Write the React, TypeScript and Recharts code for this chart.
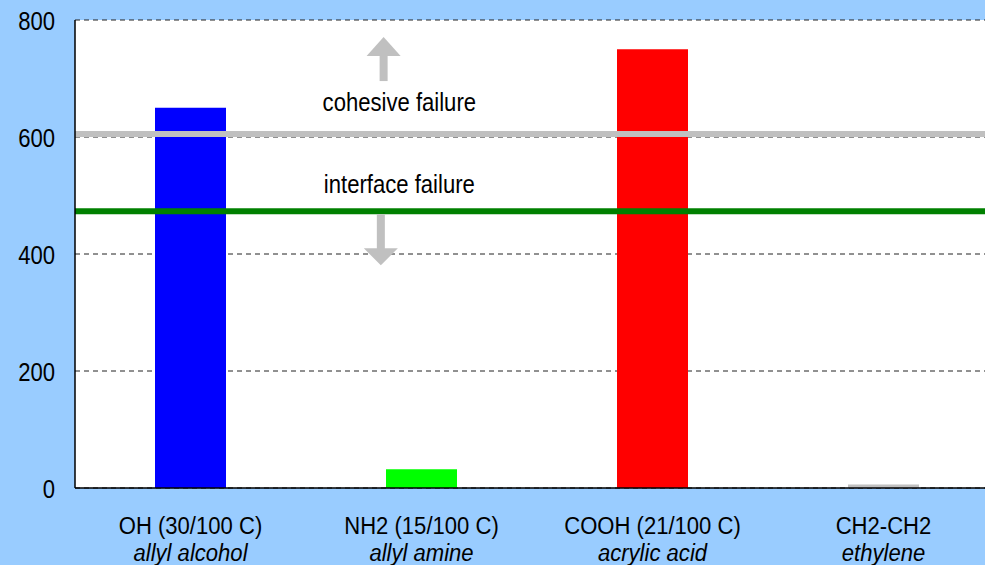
import React from 'react';
import { BarChart, Bar, XAxis, YAxis, CartesianGrid, ReferenceLine, Cell } from 'recharts';

const categories = ['OH (30/100 C)', 'NH2 (15/100 C)', 'COOH (21/100 C)', 'CH2-CH2'];
const monomers = ['allyl alcohol', 'allyl amine', 'acrylic acid', 'ethylene'];
const strengths = [650, 32, 750, 6];
const barColors = ['#0000ff', '#00ff00', '#ff0000', '#c0c0c0'];
const yTicks = [0, 200, 400, 600, 800];
const cohesiveLimit = 605;
const interfaceLimit = 473;

const data = categories.map((name, i) => ({
  name,
  monomer: monomers[i],
  value: strengths[i],
}));

const FONT = '"Liberation Sans", Arial, sans-serif';

// the original uses a tall, narrow sans - squeeze a bigger font horizontally
const NarrowText = ({ x, y, anchor = 'middle', size = 26, squeeze = 0.85, italic = false, children }: any) => (
  <text
    transform={`translate(${x} ${y}) scale(${squeeze} 1)`}
    x={0}
    y={0}
    textAnchor={anchor}
    fontSize={size}
    fontStyle={italic ? 'italic' : 'normal'}
    fontFamily={FONT}
    fill="#000"
  >
    {children}
  </text>
);

const CategoryTick = (props: any) => {
  const { x, y, payload } = props;
  const row = data.find(d => d.name === payload.value);
  return (
    <g>
      <NarrowText x={x} y={y + 38} size={24} squeeze={0.92}>{payload.value}</NarrowText>
      <NarrowText x={x} y={y + 65} size={24} squeeze={0.92} italic>{row ? row.monomer : ''}</NarrowText>
    </g>
  );
};

const ValueTick = (props: any) => {
  const { x, y, payload } = props;
  return <NarrowText x={x} y={y + 10} anchor="end">{payload.value}</NarrowText>;
};

// label + arrow drawn relative to the reference line's own position
const CohesiveLabel = (props: any) => {
  const { viewBox } = props;
  const y = viewBox.y;
  const tx = viewBox.x + viewBox.width * 0.351;
  const ax = viewBox.x + viewBox.width * 0.334;
  return (
    <g>
      <rect x={ax - 4} y={y - 80} width={8} height={27} fill="#c0c0c0" />
      <polygon points={`${ax - 17},${y - 78} ${ax + 17},${y - 78} ${ax},${y - 97}`} fill="#c0c0c0" />
      <NarrowText x={tx} y={y - 23}>cohesive failure</NarrowText>
    </g>
  );
};

const InterfaceLabel = (props: any) => {
  const { viewBox } = props;
  const y = viewBox.y;
  const tx = viewBox.x + viewBox.width * 0.351;
  const ax = viewBox.x + viewBox.width * 0.331;
  return (
    <g>
      <rect x={ax - 4} y={y + 3} width={8} height={36} fill="#c0c0c0" />
      <polygon points={`${ax - 17},${y + 37} ${ax + 17},${y + 37} ${ax},${y + 54}`} fill="#c0c0c0" />
      <NarrowText x={tx} y={y - 18}>interface failure</NarrowText>
    </g>
  );
};

export default function App() {
  return (
    <div style={{ position: 'absolute', left: 0, top: 0, width: 985, height: 565, overflow: 'hidden', background: '#99ccff' }}>
      <BarChart
        width={1000}
        height={565}
        data={data}
        margin={{ top: 20, right: 1, bottom: 0, left: 0 }}
        barSize={71}
      >
        <CartesianGrid vertical={false} strokeDasharray="5 4" stroke="#222" fill="#fff" fillOpacity={1} />
        <XAxis
          dataKey="name"
          height={77}
          tickLine={false}
          axisLine={{ stroke: '#000', strokeWidth: 1.5 }}
          tick={<CategoryTick />}
          interval={0}
        />
        <YAxis
          width={75}
          domain={[0, 800]}
          ticks={yTicks}
          tickLine={false}
          tickSize={0}
          tickMargin={20}
          axisLine={{ stroke: '#000', strokeWidth: 1.5 }}
          tick={<ValueTick />}
        />
        <Bar dataKey="value" isAnimationActive={false}>
          {data.map((d, i) => (
            <Cell key={d.name} fill={barColors[i]} />
          ))}
        </Bar>
        <ReferenceLine y={cohesiveLimit} stroke="#c0c0c0" strokeWidth={6} label={<CohesiveLabel />} />
        <ReferenceLine y={interfaceLimit} stroke="#008000" strokeWidth={6} label={<InterfaceLabel />} />
      </BarChart>
    </div>
  );
}
